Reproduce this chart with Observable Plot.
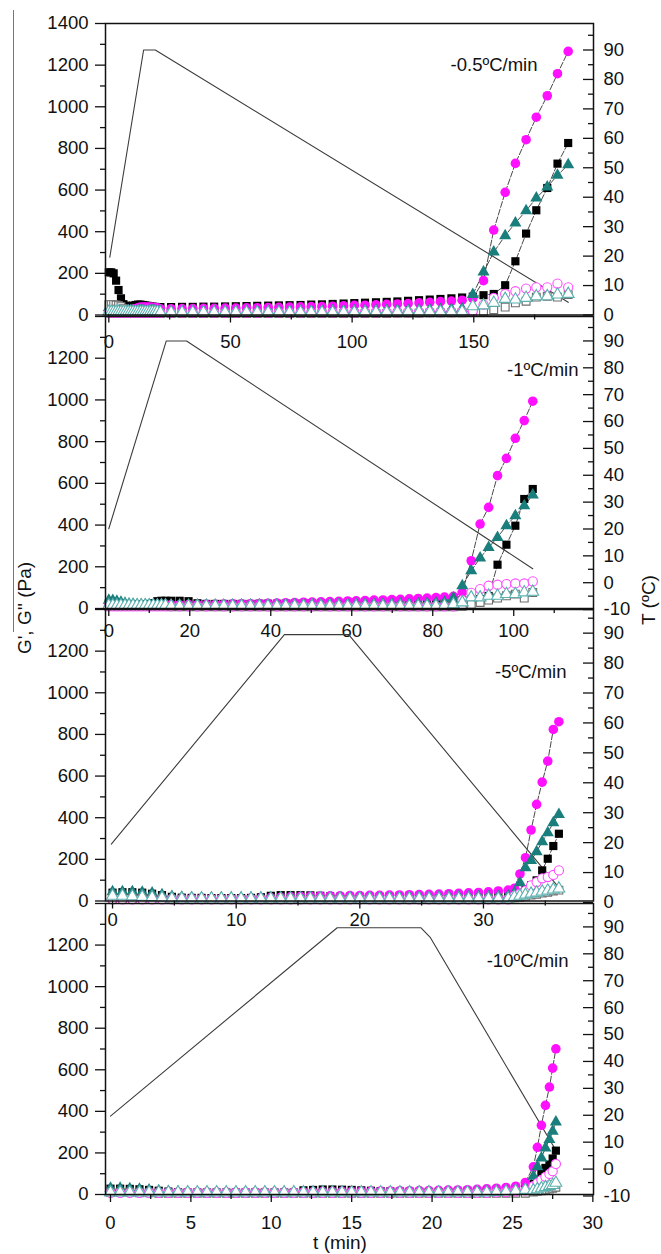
<!DOCTYPE html>
<html><head><meta charset="utf-8">
<script src="https://cdn.jsdelivr.net/npm/d3@7"></script>
<script src="https://cdn.jsdelivr.net/npm/@observablehq/plot@0.6"></script>
<style>
body{margin:0;background:#fff;}
#chart{position:relative;width:661px;height:1254px;font-family:"Liberation Sans",Arial,sans-serif;color:#111;overflow:hidden;}
#chart svg{position:absolute;left:0;}
.lab{position:absolute;font-size:19px;white-space:nowrap;line-height:1;color:#111;}
</style></head><body><div id="chart"></div>
<script>
// ---------------- DATA ----------------
const TITLES = ["-0.5ºC/min", "-1ºC/min", "-5ºC/min", "-10ºC/min"];
const Y_LABEL = "G', G'' (Pa)";
const Y2_LABEL = "T (ºC)";
const X_LABEL = "t (min)";

const G_TICKS = [0, 200, 400, 600, 800, 1000, 1200, 1400];
const G_MINOR = [100, 300, 500, 700, 900, 1100, 1300];
const G_LABELS_TOP = [0, 200, 400, 600, 800, 1000, 1200, 1400];
const G_LABELS = [0, 200, 400, 600, 800, 1000, 1200];
const T_TICKS_0 = [0, 10, 20, 30, 40, 50, 60, 70, 80, 90];
const T_MINOR_0 = [5, 15, 25, 35, 45, 55, 65, 75, 85, 95];
const T_TICKS_M10 = [-10, 0, 10, 20, 30, 40, 50, 60, 70, 80, 90];
const T_MINOR_M10 = [-5, 5, 15, 25, 35, 45, 55, 65, 75, 85, 95];
const P1_X_TICKS = [0, 50, 100, 150], P1_X_MINOR = [25, 75, 125, 175];
const P2_X_TICKS = [0, 20, 40, 60, 80, 100], P2_X_MINOR = [10, 30, 50, 70, 90, 110];
const P3_X_TICKS = [0, 10, 20, 30], P3_X_MINOR = [5, 15, 25, 35];
const P4_X_TICKS = [0, 5, 10, 15, 20, 25, 30], P4_X_MINOR = [2.5, 7.5, 12.5, 17.5, 22.5, 27.5];

// Panel 1 (-0.5 ºC/min)
const P1_T = [0,1,2,3,4,5,6,7,8,9,10,11,12,13,14,15,16,17,18,19,20,
  21.2,25.6,30.1,34.5,38.9,43.3,47.8,52.2,56.6,61.0,
  65.5,69.9,74.3,78.8,83.2,87.6,92.0,96.5,100.9,105.3,
  109.8,114.2,118.6,123.0,127.5,131.9,136.3,140.8,145.2,149.6,
  154.0,158.2,162.9,167.1,171.5,175.7,180.2,184.4,188.8];
const P1_GP_SQ = [205,205,200,165,120,80,52,45,42,42,45,48,50,50,48,46,44,42,40,39,38,
  38,38,39,39,40,40,41,42,43,44,
  45,46,47,48,50,51,53,55,57,59,
  61,63,65,68,71,74,77,80,84,88,
  95,101,143,258,391,503,610,727,826];
const P1_GP_CI = [20,20,20,20,20,20,20,22,24,26,28,30,35,38,38,38,38,38,37,36,35,
  30,30,31,31,32,32,33,33,34,35,
  36,37,38,39,40,41,42,44,46,47,
  49,51,53,55,58,61,64,67,71,80,
  165,408,589,728,842,950,1053,1159,1266];
const P1_GP_TR = [35,35,32,30,28,25,22,20,20,20,20,20,20,20,20,20,20,20,20,20,20,
  15,15,15,15,16,16,16,16,17,17,
  17,18,18,18,19,19,20,20,21,21,
  22,22,23,23,24,25,26,28,30,98,
  206,302,381,442,501,562,615,671,722];
const P1_GPP_SQ = [50,50,50,48,45,40,30,20,15,12,10,10,10,10,10,10,10,10,10,10,10,
  8,8,8,8,8,8,8,8,8,8,
  8,8,8,8,8,8,8,8,8,8,
  8,8,9,9,9,10,10,10,11,12,
  18,26,38,58,66,86,90,86,98];
const P1_GPP_CI = [10,10,10,10,10,10,10,10,10,10,10,10,10,10,10,10,10,10,10,10,10,
  10,10,10,10,10,10,10,10,10,10,
  10,11,11,11,11,11,12,12,12,12,
  12,13,13,13,13,14,14,14,15,20,
  50,82,101,114,127,133,133,151,133];
const P1_GPP_TR = [15,15,15,15,15,15,15,15,15,15,15,15,15,15,15,15,15,15,15,15,15,
  13,13,13,13,13,13,13,13,13,13,
  13,13,13,13,13,13,13,13,13,14,
  14,14,14,14,15,15,15,15,16,42,
  46,58,77,74,82,90,90,98,101];
const P1_TEMP_TIME = [0.4, 14.3, 19.1, 188.8];
const P1_TEMP = [19.6, 90, 90, 4.3];
const P1_ONSET = 149.6;

// Panel 2 (-1 ºC/min)
const P2_T = [0,1,2,3,4,5,6,7,8,9,10,11,12,13,14,
  15.4,17.5,19.7,21.9,24.1,26.3,28.4,30.6,32.8,35.0,
  37.2,39.3,41.5,43.7,45.9,48.1,50.2,52.4,54.6,56.8,
  59.0,61.1,63.3,65.5,67.7,69.9,72.0,74.2,76.4,78.6,
  80.8,82.9,85.1,
  87.3,89.5,91.7,93.8,96.0,98.2,100.4,102.6,104.7];
const P2_GP_SQ = [25,25,22,20,20,20,20,20,20,20,22,25,35,37,37,
  37,37,35,25,22,22,22,22,22,22,
  23,23,23,24,24,25,25,26,26,27,
  28,29,30,31,32,33,34,35,36,37,
  38,39,40,
  40,42,45,60,210,306,397,525,573];
const P2_GP_CI = [15,15,15,15,15,15,15,15,15,15,15,15,15,18,20,
  18,18,19,19,20,20,21,22,23,23,
  24,25,26,27,28,30,31,32,33,34,
  36,37,38,40,41,43,44,46,48,50,
  52,55,58,
  77,229,405,485,637,720,816,901,994];
const P2_GP_TR = [40,38,35,30,25,22,20,18,18,18,18,18,18,18,18,
  16,16,16,16,16,16,16,17,17,17,
  17,17,17,18,18,18,18,18,19,19,
  19,19,20,20,20,21,21,22,23,24,
  26,30,50,
  109,181,242,293,341,397,445,493,544];
const P2_GPP_SQ = [10,10,10,10,10,10,10,10,10,10,10,10,10,10,10,
  8,8,8,8,8,8,8,8,8,8,
  8,8,8,8,8,8,8,8,8,8,
  8,8,8,8,8,8,8,8,8,8,
  8,8,8,
  10,20,29,40,50,61,69,50,77];
const P2_GPP_CI = [10,10,10,10,10,10,10,10,10,10,10,10,10,10,10,
  10,10,10,10,10,10,10,10,10,10,
  10,10,10,10,10,10,10,10,10,10,
  10,10,10,10,10,10,10,10,10,10,
  10,10,10,
  40,75,93,109,114,117,120,120,130];
const P2_GPP_TR = [15,15,15,15,15,15,15,15,15,15,15,15,15,15,15,
  12,12,12,12,12,12,12,12,12,12,
  12,12,12,12,12,12,12,12,12,12,
  12,12,12,12,12,12,12,12,12,12,
  12,14,20,
  29,53,53,61,61,69,69,77,80];
const P2_TEMP_TIME = [0, 14.2, 19.2, 104.7];
const P2_TEMP = [20.1, 90, 90, 5.2];
const P2_ONSET = 85.1;

// Panel 3 (-5 ºC/min)
const P3_T = [0,0.8,1.6,2.4,3.2,4.0,4.8,5.6,6.4,7.2,
  8.0,8.8,9.6,10.4,11.2,12.0,12.8,13.6,14.4,15.2,
  16.0,16.8,17.6,18.4,19.2,20.0,20.8,21.6,22.4,23.2,
  24.0,24.8,25.6,26.4,27.2,28.0,28.8,29.6,30.4,31.2,
  32.0,
  32.5,32.95,33.4,33.85,34.3,34.75,35.2,35.65,36.1];
const P3_GP_SQ = [40,42,42,40,35,28,20,16,15,15,
  14,14,14,14,15,18,25,28,28,28,
  27,25,22,20,20,20,20,20,21,21,
  22,22,23,24,25,26,27,28,30,32,
  34,
  35,40,55,75,99,147,203,264,323];
const P3_GP_CI = [15,15,15,15,15,14,13,12,12,12,
  12,12,12,12,13,14,16,18,20,22,
  23,24,25,25,26,26,27,27,28,29,
  30,31,32,33,35,37,39,41,44,48,
  52,
  61,130,208,341,464,571,672,824,861];
const P3_GP_TR = [45,45,44,42,38,30,22,18,16,15,
  15,15,15,15,15,15,15,15,15,15,
  15,15,15,15,15,15,16,16,16,16,
  17,17,17,18,18,19,19,20,21,22,
  24,
  40,88,160,195,237,285,328,376,416];
const P3_GPP_SQ = [12,12,12,12,10,10,8,8,8,8,
  8,8,8,8,8,8,8,8,8,8,
  8,8,8,8,8,8,8,8,8,8,
  8,8,8,8,8,8,8,8,8,8,
  8,
  15,18,22,28,32,38,42,48,52];
const P3_GPP_CI = [8,8,8,8,8,8,8,8,8,8,
  8,8,8,8,8,8,8,8,8,8,
  8,8,8,8,8,8,8,8,8,8,
  8,8,8,8,8,8,8,8,8,8,
  8,
  25,35,50,75,91,109,115,125,147];
const P3_GPP_TR = [25,25,22,20,18,15,12,12,12,12,
  12,12,12,12,12,12,12,12,12,12,
  12,12,12,12,12,12,12,12,12,12,
  12,12,12,12,12,12,12,12,12,12,
  12,
  20,25,30,35,40,45,50,55,60];
const P3_TEMP_TIME = [-0.1, 13.9, 19.1, 36.2];
const P3_TEMP = [19.5, 89.5, 89.5, 4.5];
const P3_ONSET = 32.0;

// Panel 4 (-10 ºC/min)
const P4_T = [0,0.6,1.2,1.8,2.4,3.0,3.6,4.2,4.8,5.4,
  6.0,6.6,7.2,7.8,8.4,9.0,9.6,10.2,10.8,11.4,
  12.0,12.6,13.2,13.8,14.4,15.0,15.6,16.2,16.8,17.4,
  18.0,18.6,19.2,19.8,20.4,21.0,21.6,22.2,22.8,23.4,
  24.0,24.6,25.2,25.8,
  26.3,26.55,26.8,27.05,27.3,27.5,27.7];
const P4_GP_SQ = [28,28,27,25,22,18,14,11,9,9,
  9,9,9,9,9,9,9,9,9,9,
  20,22,24,24,23,22,20,18,16,15,
  14,13,12,12,12,13,13,14,15,16,
  17,19,22,30,
  50,70,100,128,144,173,211];
const P4_GP_CI = [12,12,12,12,12,12,12,12,12,12,
  12,12,12,12,12,12,12,12,12,12,
  13,13,14,14,15,15,16,16,17,17,
  18,18,19,19,20,21,22,23,25,27,
  30,34,40,58,
  133,227,333,429,517,608,701];
const P4_GP_TR = [30,30,28,25,22,18,15,12,10,10,
  10,10,10,10,10,10,10,10,10,10,
  10,10,10,10,10,10,10,10,10,10,
  10,10,10,10,10,10,11,11,12,12,
  13,14,16,25,
  88,133,176,224,264,304,349];
const P4_GPP_SQ = [10,10,10,8,8,6,6,6,6,6,
  6,6,6,6,6,6,6,6,6,6,
  6,6,6,6,6,6,6,6,6,6,
  6,6,6,6,6,6,6,6,6,6,
  6,6,6,6,
  12,15,18,22,26,30,35];
const P4_GPP_CI = [8,8,8,8,8,8,8,8,8,8,
  8,8,8,8,8,8,8,8,8,8,
  8,8,8,8,8,8,8,8,8,8,
  8,8,8,8,8,8,8,8,8,8,
  10,12,15,20,
  40,55,70,85,99,112,147];
const P4_GPP_TR = [10,10,10,10,10,10,10,10,10,10,
  10,10,10,10,10,10,10,10,10,10,
  10,10,10,10,10,10,10,10,10,10,
  10,10,10,10,10,10,10,10,10,10,
  12,14,18,22,
  20,25,30,35,40,45,56];
const P4_TEMP_TIME = [0, 14.1, 19.3, 19.9, 27.8];
const P4_TEMP = [19.7, 89.7, 89.7, 86, 6];
const P4_ONSET = 25.8;

// ---------------- LAYOUT ----------------
const W = 661, ML = 105, MR = 68, MT = 20, MB = 50;
const FONT = "'Liberation Sans', Arial, sans-serif";
const PANELS = [
  {top: 22.5, ih: 291.5, xDomain: [-1.36, 199.2], tDomain: [0, 99], xPad: 20, titleDx: -56, titleDy: 34,
   t: P1_T, sq: P1_GP_SQ, ci: P1_GP_CI, tr: P1_GP_TR, osq: P1_GPP_SQ, oci: P1_GPP_CI, otr: P1_GPP_TR,
   tempT: P1_TEMP_TIME, temp: P1_TEMP, onset: P1_ONSET, xTicks: P1_X_TICKS, xMinor: P1_X_MINOR,
   gLabels: G_LABELS_TOP, tTicks: T_TICKS_0, tMinor: T_MINOR_0, title: TITLES[0]},
  {top: 315.5, ih: 292, xDomain: [-0.81, 119.7], tDomain: [-9.6, 99.1], xPad: 15.8, titleDx: -15, titleDy: 46,
   t: P2_T, sq: P2_GP_SQ, ci: P2_GP_CI, tr: P2_GP_TR, osq: P2_GPP_SQ, oci: P2_GPP_CI, otr: P2_GPP_TR,
   tempT: P2_TEMP_TIME, temp: P2_TEMP, onset: P2_ONSET, xTicks: P2_X_TICKS, xMinor: P2_X_MINOR,
   gLabels: G_LABELS, tTicks: T_TICKS_M10, tMinor: T_MINOR_M10, title: TITLES[1]},
  {top: 608.5, ih: 291.5, xDomain: [-0.57, 38.9], tDomain: [0.5, 97.9], xPad: 11.7, titleDx: -27, titleDy: 55.5,
   t: P3_T, sq: P3_GP_SQ, ci: P3_GP_CI, tr: P3_GP_TR, osq: P3_GPP_SQ, oci: P3_GPP_CI, otr: P3_GPP_TR,
   tempT: P3_TEMP_TIME, temp: P3_TEMP, onset: P3_ONSET, xTicks: P3_X_TICKS, xMinor: P3_X_MINOR,
   gLabels: G_LABELS, tTicks: T_TICKS_0, tMinor: T_MINOR_0, title: TITLES[2]},
  {top: 902.5, ih: 291, xDomain: [-0.31, 30.04], tDomain: [-9.45, 98.7], xPad: 21.5, titleDx: -25, titleDy: 50,
   t: P4_T, sq: P4_GP_SQ, ci: P4_GP_CI, tr: P4_GP_TR, osq: P4_GPP_SQ, oci: P4_GPP_CI, otr: P4_GPP_TR,
   tempT: P4_TEMP_TIME, temp: P4_TEMP, onset: P4_ONSET, xTicks: P4_X_TICKS, xMinor: P4_X_MINOR,
   gLabels: G_LABELS, tTicks: T_TICKS_M10, tMinor: T_MINOR_M10, title: TITLES[3]}
];

const C_MAG = "#ff10ff", C_TEAL = "#1a7e7c", C_TEAL_O = "#5bb0ae", C_GRAY_O = "#6e6e6e", C_MAG_O = "#ff4cff";
const fmt = d => String(d);
const rows = (t, v) => t.map((ti, i) => ({t: ti, g: v[i]})).filter(d => d.g != null);

const chart = document.getElementById("chart");

function place(svg, top) {
  svg.style.top = (top - MT) + "px";
  chart.appendChild(svg);
}

PANELS.forEach(p => {
  const H = MT + p.ih + MB;
  const innerW = W - ML - MR;
  const common = {
    width: W, height: H, marginLeft: ML, marginRight: MR, marginTop: MT, marginBottom: MB,
    style: {background: "transparent", overflow: "visible", fontSize: "18.5px", fontFamily: FONT, color: "#111"}
  };
  // Temperature overlay (right axis)
  const tPlot = Plot.plot({
    ...common,
    x: {domain: p.xDomain, axis: null},
    y: {domain: p.tDomain, axis: null},
    marks: [
      Plot.line(rows(p.tempT, p.temp), {x: "t", y: "g", stroke: "#3c3c3c", strokeWidth: 1.1}),
      Plot.tickY(p.tMinor, {y: d => d, insetLeft: innerW - 5, stroke: "#111", strokeWidth: 1.3}),
      Plot.tickY(p.tTicks, {y: d => d, insetLeft: innerW - 10, stroke: "#111", strokeWidth: 1.3}),
      Plot.axisY(p.tTicks, {anchor: "right", tickSize: 0, tickPadding: 10, tickFormat: fmt, label: null})
    ]
  });
  place(tPlot, p.top);

  const gel = v => rows(p.t, v).filter(d => d.t >= p.onset);
  const lineOpt = {x: "t", y: "g", stroke: "#333", strokeWidth: 0.9, strokeDasharray: "6,2"};
  const gPlot = Plot.plot({
    ...common,
    x: {domain: p.xDomain},
    y: {domain: [0, 1400]},
    marks: [
      Plot.line(gel(p.sq), lineOpt),
      Plot.line(gel(p.ci), lineOpt),
      Plot.line(gel(p.tr), lineOpt),
      Plot.dot(rows(p.t, p.sq), {x: "t", y: "g", symbol: "square", r: 4.6, fill: "#000"}),
      Plot.dot(rows(p.t, p.ci), {x: "t", y: "g", symbol: "circle", r: 4.8, fill: C_MAG}),
      Plot.dot(rows(p.t, p.tr), {x: "t", y: "g", symbol: "triangle", r: 4.5, fill: C_TEAL}),
      Plot.dot(rows(p.t, p.osq), {x: "t", y: "g", symbol: "square", r: 4.4, fill: "white", stroke: C_GRAY_O, strokeWidth: 1.1}),
      Plot.dot(rows(p.t, p.oci), {x: "t", y: "g", symbol: "circle", r: 4.6, fill: "white", stroke: C_MAG_O, strokeWidth: 1.1}),
      Plot.dot(rows(p.t, p.otr), {x: "t", y: "g", symbol: "triangle", r: 4.4, fill: "white", stroke: C_TEAL_O, strokeWidth: 1.1}),
      Plot.axisY(G_TICKS, {anchor: "left", tickSize: 10, fill: "none", strokeWidth: 1.3, label: null}),
      Plot.axisY(G_MINOR, {anchor: "left", tickSize: 5, fill: "none", strokeWidth: 1.3, label: null}),
      Plot.axisY(p.gLabels, {anchor: "left", tickSize: 0, tickPadding: 17, tickFormat: fmt, label: null}),
      Plot.axisX(p.xTicks, {tickSize: 8, fill: "none", strokeWidth: 1.3, label: null}),
      Plot.axisX(p.xMinor, {tickSize: 5, fill: "none", strokeWidth: 1.3, label: null}),
      Plot.axisX(p.xTicks, {tickSize: 0, tickPadding: p.xPad, tickFormat: fmt, label: null}),
      Plot.frame({stroke: "#111", strokeWidth: 1.5}),
      Plot.text([p.title], {text: d => d, frameAnchor: "top-right", textAnchor: "end", dx: p.titleDx, dy: p.titleDy, fontSize: 18.5})
    ]
  });
  place(gPlot, p.top);
});

// Axis titles and page artifact line
function addLabel(text, x, y, rot) {
  const d = document.createElement("div");
  d.className = "lab";
  d.textContent = text;
  d.style.left = x + "px";
  d.style.top = y + "px";
  d.style.transform = "translate(-50%,-50%)" + (rot ? " rotate(" + rot + "deg)" : "");
  chart.appendChild(d);
}
addLabel(Y_LABEL, 24, 608, -90);
addLabel(Y2_LABEL, 648, 600, -90);
addLabel(X_LABEL, 340, 1242, 0);
const vline = document.createElement("div");
vline.style.cssText = "position:absolute;left:13px;top:10px;width:0;height:622px;border-left:1.5px solid #777;";
chart.appendChild(vline);
</script>
</body></html>
